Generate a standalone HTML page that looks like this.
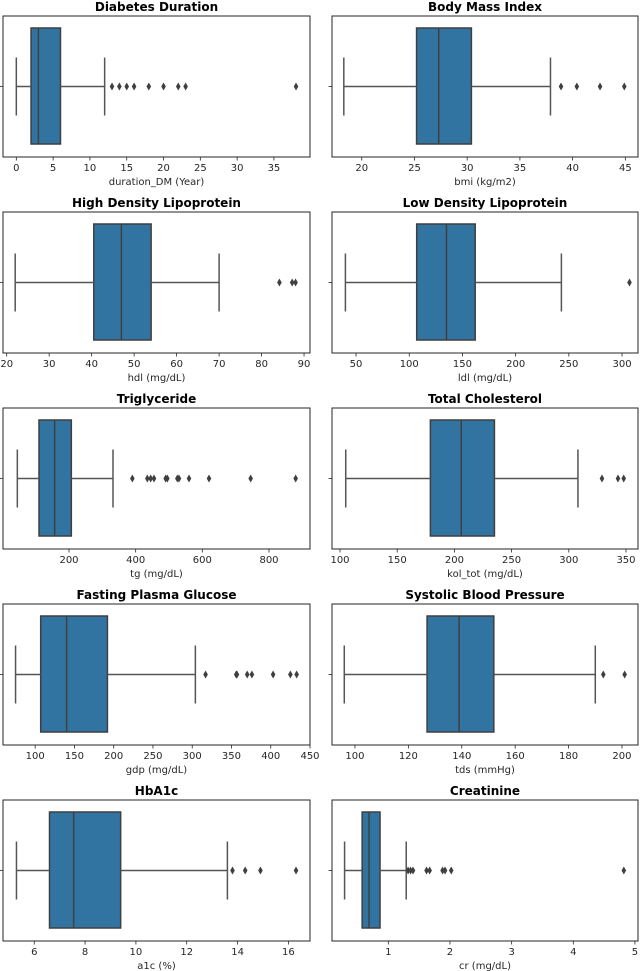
<!DOCTYPE html>
<html><head><meta charset="utf-8"><style>
html,body{margin:0;padding:0;background:#fff;}
svg{display:block;font-family:"DejaVu Sans","Liberation Sans",sans-serif;}
</style></head><body>
<svg id="chart" width="640" height="971" viewBox="0 0 640 971" xmlns="http://www.w3.org/2000/svg"></svg>
<script>
const titles = ["Diabetes Duration","Body Mass Index","High Density Lipoprotein","Low Density Lipoprotein","Triglyceride","Total Cholesterol","Fasting Plasma Glucose","Systolic Blood Pressure","HbA1c","Creatinine"];
const xlabels = ["duration_DM (Year)","bmi (kg/m2)","hdl (mg/dL)","ldl (mg/dL)","tg (mg/dL)","kol_tot (mg/dL)","gdp (mg/dL)","tds (mmHg)","a1c (%)","cr (mg/dL)"];
const domains = [[-1.81,39.9],[17.18,46.2],[19.13,91.4],[27.4,315],[2,923],[93,360.5],[59,450],[91.4,206],[4.77,16.85],[0.086,5.05]];
const ticks = [[0,5,10,15,20,25,30,35],[20,25,30,35,40,45],[20,30,40,50,60,70,80,90],[50,100,150,200,250,300],[200,400,600,800],[100,150,200,250,300,350],[100,150,200,250,300,350,400,450],[100,120,140,160,180,200],[6,8,10,12,14,16],[1,2,3,4,5]];
const whiskLo = [0,18.3,22,40,45,105,75,96,5.3,0.29];
const q1s = [2,25.2,40.5,107,110,179,107,127,6.6,0.575];
const medians = [3,27.3,47,135,157,206,140,139,7.55,0.687];
const q3s = [6,30.4,54,162,207,235,192,152,9.4,0.865];
const whiskHi = [12,37.9,70,243,332,308,304,190,13.6,1.29];
const outliers = [[13,14,15,16,18,20,22,23,38],[38.9,40.4,42.6,44.9],[84.2,87.2,88],[307],[390,435,445,455,490,495,525,530,560,620,745,880],[329,343,348],[317,356,357,370,376,403,425,433],[193,201],[13.8,14.3,14.9,16.3],[1.32,1.36,1.40,1.62,1.67,1.88,1.92,2.02,4.82]];

const NS="http://www.w3.org/2000/svg";
const svg=document.getElementById('chart');
function mk(tag,attrs,parent){const e=document.createElementNS(NS,tag);for(const k in attrs)e.setAttribute(k,attrs[k]);(parent||svg).appendChild(e);return e;}
const colX=[[3,310],[332,638]];
const rowTop=[16,212,408,604,800];
const H=141;
titles.forEach((t,i)=>{
  const c=i%2, r=Math.floor(i/2);
  const L=colX[c][0], R=colX[c][1], T=rowTop[r], B=T+H, cy=T+70.5;
  const d=domains[i];
  const sx=v=>L+(v-d[0])/(d[1]-d[0])*(R-L);
  const g=mk('g',{});
  
  
  const tt=mk('text',{x:(L+R)/2,y:T-5,'text-anchor':'middle','font-size':'12','font-weight':'bold',fill:'#000'},g);
  tt.textContent=t;
  
  
  const bx=mk('rect',{x:sx(q1s[i]),y:T+12,width:sx(q3s[i])-sx(q1s[i]),height:H-25,fill:'#3274a1',stroke:'#3f3f3f','stroke-width':1.5},g);
  
  
  const ln=(x1,y1,x2,y2,n,col)=>{const l=mk('line',{x1,y1,x2,y2,stroke:col||'#3f3f3f','stroke-width':1.5},g);return l;};
  ln(sx(medians[i]),T+12,sx(medians[i]),B-13,'median-line');
  ln(sx(whiskLo[i]),cy,sx(q1s[i]),cy,'lower-whisker','#555');
  ln(sx(q3s[i]),cy,sx(whiskHi[i]),cy,'upper-whisker','#555');
  ln(sx(whiskLo[i]),cy-29,sx(whiskLo[i]),cy+29,'lower-cap','#555');
  ln(sx(whiskHi[i]),cy-29,sx(whiskHi[i]),cy+29,'upper-cap','#555');
  outliers[i].forEach(v=>{
    const x=sx(v);
    const p=mk('polygon',{points:`${x},${cy-4} ${x+2.3},${cy} ${x},${cy+4} ${x-2.3},${cy}`,fill:'#3f3f3f'},g);
    
    
  });
  const fr=mk('rect',{x:L,y:T,width:R-L,height:H,fill:'none',stroke:'#262626','stroke-width':1},g);
  
  
  mk('line',{x1:L-3.5,y1:cy,x2:L,y2:cy,stroke:'#262626','stroke-width':0.8},g);
  ticks[i].forEach(v=>{
    const x=sx(v);
    mk('line',{x1:x,y1:B,x2:x,y2:B+3.5,stroke:'#262626','stroke-width':0.8},g);
    const tl=mk('text',{x:x,y:B+14,'text-anchor':'middle','font-size':'10',fill:'#262626'},g);
    tl.textContent=v;
    
    
  });
  const xl=mk('text',{x:(L+R)/2,y:B+28,'text-anchor':'middle','font-size':'10',fill:'#262626'},g);
  xl.textContent=xlabels[i];
  
  
});
</script>
</body></html>
